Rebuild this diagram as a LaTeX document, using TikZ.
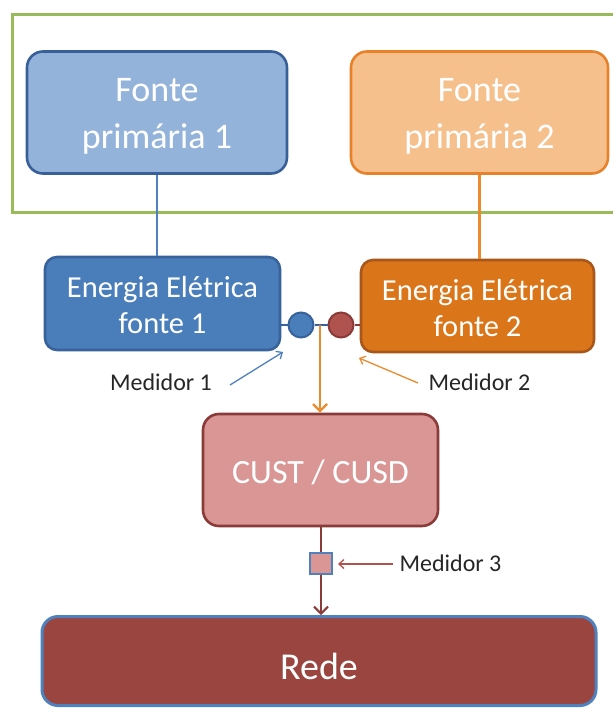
\documentclass[tikz,border=0pt]{standalone}
\usepackage{fontspec}
\setmainfont{Carlito}
\usetikzlibrary{arrows.meta}
\definecolor{frameg}{HTML}{9BBB59}
\definecolor{fpAfill}{HTML}{93B3DB}
\definecolor{fpAdraw}{HTML}{385F97}
\definecolor{fpBfill}{HTML}{F6C08D}
\definecolor{fpBdraw}{HTML}{E8822A}
\definecolor{eeAfill}{HTML}{4A7EBB}
\definecolor{eeAdraw}{HTML}{37629A}
\definecolor{eeBfill}{HTML}{DB7519}
\definecolor{eeBdraw}{HTML}{A8561A}
\definecolor{custfill}{HTML}{D99694}
\definecolor{custdraw}{HTML}{8A3B38}
\definecolor{redefill}{HTML}{9A4540}
\definecolor{bluel}{HTML}{4F81BD}
\definecolor{orangel}{HTML}{EC8A2E}
\definecolor{brownl}{HTML}{8A3B38}
\definecolor{redm}{HTML}{B0524E}
\definecolor{labtxt}{HTML}{262626}
\tikzset{
  boxnode/.style={rounded corners=16pt, line width=2.6pt, inner sep=0pt},
  boxtext/.style={align=center, text=white, inner sep=0pt},
  lbl/.style={text=labtxt, font=\fontsize{24}{28}\selectfont, inner sep=0pt},
  meterc/.style={circle, minimum size=25pt, inner sep=0pt, line width=2pt},
}
\begin{document}
\begin{tikzpicture}[x=1pt,y=-1pt]
\useasboundingbox (0,0) rectangle (613,708);
\fill[white] (0,0) rectangle (613,708);
% green frame (open on the right, cut by the page edge)
\draw[frameg, line width=3pt] (613,15) -- (12,15) -- (12,213) -- (613,213);

% boxes
\node[boxnode, draw=fpAdraw, fill=fpAfill, minimum width=260pt, minimum height=122pt,
      label={[boxtext, name=fp1t, yshift=-4pt, font=\fontsize{36}{47}\selectfont]center:{Fonte\\primária 1}}] (fp1) at (157,112.5) {};
\node[boxnode, draw=fpBdraw, fill=fpBfill, minimum width=257pt, minimum height=122pt,
      label={[boxtext, name=fp2t, yshift=-4pt, font=\fontsize{36}{47}\selectfont]center:{Fonte\\primária 2}}] (fp2) at (479.5,112.5) {};
\node[boxnode, rounded corners=12pt, draw=eeAdraw, fill=eeAfill, minimum width=235pt, minimum height=93pt,
      label={[boxtext, name=ee1t, yshift=-2pt, font=\fontsize{30.5}{36}\selectfont]center:{Energia Elétrica\\fonte 1}}] (ee1) at (162.5,303.5) {};
\node[boxnode, rounded corners=12pt, draw=eeBdraw, fill=eeBfill, minimum width=233pt, minimum height=92pt,
      label={[boxtext, name=ee2t, yshift=-2pt, font=\fontsize{30.5}{36}\selectfont]center:{Energia Elétrica\\fonte 2}}] (ee2) at (477.5,306) {};
\node[boxnode, draw=custdraw, fill=custfill, minimum width=235pt, minimum height=112pt,
      label={[boxtext, name=custt, yshift=-2pt, font=\fontsize{34}{40}\selectfont]center:{CUST / CUSD}}] (cust) at (320.5,470) {};
\node[boxnode, draw=bluel, line width=3pt, fill=redefill, minimum width=554pt, minimum height=89pt,
      label={[boxtext, name=redet, yshift=-5pt, font=\fontsize{38}{44}\selectfont]center:{Rede}}] (rede) at (319,661) {};

% meters
\node[meterc, draw=eeAdraw, fill=eeAfill] (m1) at (301,325) {};
\node[meterc, draw=brownl, fill=redm] (m2) at (341,325) {};
\node[draw=bluel, fill=custfill, line width=2pt, minimum width=22pt, minimum height=21pt, inner sep=0pt] (m3) at (321,563) {};
\coordinate (jn) at (320,325);

% vertical links
\draw[bluel, line width=2pt] (fp1.south) -- (fp1.south |- ee1.north);
\draw[orangel, line width=2.2pt] (fp2.south) -- (fp2.south |- ee2.north);

% horizontal meter links
\draw[eeAdraw, line width=2pt] (ee1.east |- m1) -- (m1.west);
\draw[eeAdraw, line width=2pt] (m1.east) -- (m2.west);
\draw[brownl, line width=2pt] (m2.east) -- (ee2.west |- m2);

% flows
\draw[orangel, line width=2.4pt, -{Straight Barb[length=7pt,width=14pt,line width=2.4pt]}] (jn) -- (jn |- cust.north);
\draw[brownl, line width=2pt] (m3.north |- cust.south) -- (m3.north);
\draw[brownl, line width=2pt, -{Straight Barb[length=7pt,width=14pt,line width=2pt]}] (m3.south) -- (m3.south |- rede.north);

% labels
\node[lbl] (l1) at (161,382) {Medidor 1};
\node[lbl] (l2) at (479.5,382) {Medidor 2};
\node[lbl] (l3) at (450.5,563) {Medidor 3};
\coordinate (t1a) at (230,385);
\coordinate (t1b) at (283,352);
\coordinate (t2a) at (418,383);
\coordinate (t2b) at (359,358);
\coordinate (t3a) at (393,564);
\coordinate (t3b) at (338,564);
\draw[bluel, line width=1.3pt, -{Straight Barb[length=5pt,width=9pt]}] (t1a) -- (t1b);
\draw[orangel, line width=1.3pt, -{Straight Barb[length=5pt,width=9pt]}] (t2a) -- (t2b);
\draw[redm, line width=1.3pt, -{Straight Barb[length=5pt,width=9pt]}] (t3a) -- (t3b);
\end{tikzpicture}
\end{document}
